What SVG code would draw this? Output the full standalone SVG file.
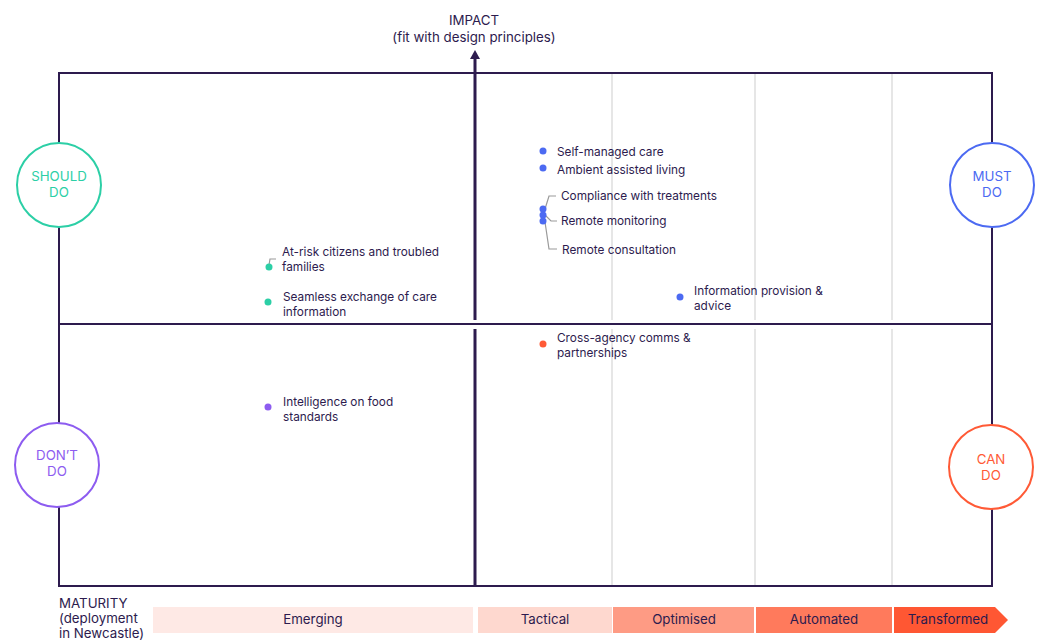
<svg xmlns="http://www.w3.org/2000/svg" width="1048" height="642" viewBox="0 0 1048 642">
  <style>
    text { font-family: Inter, "Noto Sans", "Liberation Sans", sans-serif; fill: #2d1b4e; }
    .lbl { font-size: 11.8px; }
    .axis { font-size: 13.3px; }
    .band { font-size: 13.3px; text-anchor: middle; }
    .frame { fill: none; stroke: #2d1b4e; stroke-width: 2; }
    .grid { stroke: #d6d6d6; stroke-width: 1.2; }
    .lead { fill: none; stroke: #9a9a9a; stroke-width: 1.2; }
    .ring { fill: #ffffff; stroke-width: 2; }
    .ring-t { font-size: 13.3px; text-anchor: middle; }
  </style>

  <!-- grid -->
  <g id="grid">
    <line class="grid" x1="612" y1="74" x2="612" y2="320"/>
    <line class="grid" x1="612" y1="329" x2="612" y2="585"/>
    <line class="grid" x1="755" y1="74" x2="755" y2="320"/>
    <line class="grid" x1="755" y1="329" x2="755" y2="585"/>
    <line class="grid" x1="892" y1="74" x2="892" y2="320"/>
    <line class="grid" x1="892" y1="329" x2="892" y2="585"/>
  </g>

  <!-- frame and axes -->
  <g id="connectors">
    <rect class="frame" x="59" y="73" width="933" height="513"/>
    <line x1="59" y1="324" x2="992" y2="324" stroke="#2d1b4e" stroke-width="2"/>
    <line x1="475" y1="58" x2="475" y2="320" stroke="#2d1b4e" stroke-width="3"/>
    <line x1="475" y1="329" x2="475" y2="587" stroke="#2d1b4e" stroke-width="3"/>
    <polygon points="475,50 470,59 480,59" fill="#2d1b4e"/>
    <!-- leader lines -->
    <path class="lead" d="M545,209 L549,196 L556,196"/>
    <path class="lead" d="M545,215 L551,221 L557,221"/>
    <path class="lead" d="M545,222 L549,249 L557,249"/>
    <path class="lead" d="M269,265 L270,259 L276,259"/>
  </g>

  <!-- axis titles -->
  <g id="impact-title">
    <text class="axis" x="474" y="25" text-anchor="middle">IMPACT</text>
    <text class="axis" x="474" y="42" text-anchor="middle">(fit with design principles)</text>
  </g>
  <g id="maturity-title">
    <text class="axis" x="59" y="608">MATURITY</text>
    <text class="axis" x="59" y="623">(deployment</text>
    <text class="axis" x="59" y="638">in Newcastle)</text>
  </g>

  <!-- quadrant markers -->
  <g id="should-do">
    <circle class="ring" cx="59" cy="185" r="42" stroke="#2ccfa6"/>
    <text class="ring-t" x="59" y="181" style="fill:#2ccfa6">SHOULD</text>
    <text class="ring-t" x="59" y="197" style="fill:#2ccfa6">DO</text>
  </g>
  <g id="must-do">
    <circle class="ring" cx="992" cy="185" r="42" stroke="#4c6af2" stroke-width="1.5"/>
    <text class="ring-t" x="992" y="181" style="fill:#4c6af2">MUST</text>
    <text class="ring-t" x="992" y="197" style="fill:#4c6af2">DO</text>
  </g>
  <g id="dont-do">
    <circle class="ring" cx="57" cy="465" r="42" stroke="#8d5cf0"/>
    <text class="ring-t" x="57" y="460" style="fill:#8d5cf0">DON’T</text>
    <text class="ring-t" x="57" y="476" style="fill:#8d5cf0">DO</text>
  </g>
  <g id="can-do">
    <circle class="ring" cx="991" cy="467" r="42" stroke="#ff5a36" stroke-width="1.5"/>
    <text class="ring-t" x="991" y="464" style="fill:#ff5a36">CAN</text>
    <text class="ring-t" x="991" y="480" style="fill:#ff5a36">DO</text>
  </g>

  <!-- data points -->
  <g id="self-managed-care">
    <circle cx="543" cy="151" r="3.5" fill="#4c6af2"/>
    <text class="lbl" x="557" y="156">Self-managed care</text>
  </g>
  <g id="ambient-assisted-living">
    <circle cx="543" cy="168" r="3.5" fill="#4c6af2"/>
    <text class="lbl" x="557" y="174">Ambient assisted living</text>
  </g>
  <g id="compliance">
    <circle cx="543" cy="209" r="3.5" fill="#4c6af2"/>
    <text class="lbl" x="561" y="200">Compliance with treatments</text>
  </g>
  <g id="remote-monitoring">
    <circle cx="543" cy="215" r="3.5" fill="#4c6af2"/>
    <text class="lbl" x="561" y="225">Remote monitoring</text>
  </g>
  <g id="remote-consultation">
    <circle cx="543" cy="221" r="3.5" fill="#4c6af2"/>
    <text class="lbl" x="562" y="254">Remote consultation</text>
  </g>
  <g id="at-risk">
    <circle cx="269" cy="267" r="3.5" fill="#2ccfa6"/>
    <text class="lbl" x="282" y="256">At-risk citizens and troubled</text>
    <text class="lbl" x="282" y="271">families</text>
  </g>
  <g id="seamless-exchange">
    <circle cx="268" cy="302" r="3.5" fill="#2ccfa6"/>
    <text class="lbl" x="283" y="301">Seamless exchange of care</text>
    <text class="lbl" x="283" y="316">information</text>
  </g>
  <g id="information-provision">
    <circle cx="680" cy="297" r="3.5" fill="#4c6af2"/>
    <text class="lbl" x="694" y="295">Information provision &amp;</text>
    <text class="lbl" x="694" y="310">advice</text>
  </g>
  <g id="cross-agency">
    <circle cx="543" cy="344" r="3.5" fill="#ff5a36"/>
    <text class="lbl" x="557" y="342">Cross-agency comms &amp;</text>
    <text class="lbl" x="557" y="357">partnerships</text>
  </g>
  <g id="food-standards">
    <circle cx="268" cy="407" r="3.5" fill="#8d5cf0"/>
    <text class="lbl" x="283" y="406">Intelligence on food</text>
    <text class="lbl" x="283" y="421">standards</text>
  </g>

  <!-- maturity scale -->
  <g id="scale-emerging">
    <rect x="153" y="607" width="320" height="26" fill="#fee9e5"/>
    <text class="band" x="313" y="624">Emerging</text>
  </g>
  <g id="scale-tactical">
    <rect x="478" y="607" width="134" height="26" fill="#fed8cf"/>
    <text class="band" x="545" y="624">Tactical</text>
  </g>
  <g id="scale-optimised">
    <rect x="613" y="607" width="141" height="26" fill="#fe9b84"/>
    <text class="band" x="684" y="624">Optimised</text>
  </g>
  <g id="scale-automated">
    <rect x="756" y="607" width="136" height="26" fill="#ff7a5c"/>
    <text class="band" x="824" y="624">Automated</text>
  </g>
  <g id="scale-transformed">
    <polygon points="894,607 995,607 1008,620 995,633 894,633" fill="#ff5733"/>
    <text class="band" x="948" y="624">Transformed</text>
  </g>
</svg>
